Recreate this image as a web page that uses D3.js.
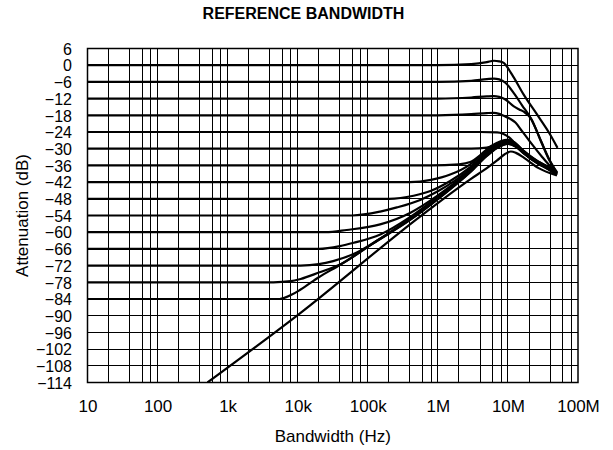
<!DOCTYPE html>
<html>
<head>
  <meta charset="utf-8">
  <script src="https://d3js.org/d3.v7.min.js"></script>
  <style>
    body { margin: 0; background: #fff; }
    text { font-family: "Liberation Sans", Arial, sans-serif; fill: #000; }
    .grid line { stroke: #000; stroke-width: 1px; shape-rendering: crispEdges; }
    .curve { fill: none; stroke: #000; stroke-width: 2.2px; stroke-linejoin: round; }
    .frame { fill: none; stroke: #000; stroke-width: 1.5px; }
  </style>
</head>
<body>
  <svg id="chart" width="613" height="450"></svg>
  <script>

    // ---- data (frequency in Hz, attenuation in dB) ----
    const xTickValues = [1e1, 1e2, 1e3, 1e4, 1e5, 1e6, 1e7, 1e8];
    const xTickLabels = ["10", "100", "1k", "10k", "100k", "1M", "10M", "100M"];
    const yTickValues = [6, 0, -6, -12, -18, -24, -30, -36, -42, -48, -54, -60, -66, -72, -78, -84, -90, -96, -102, -108, -114];

    const curve0 = [[10,0],[1e6,0],[3e6,0.4],[5e6,1.1],[6.3e6,1.6],[7.5e6,1.4],[8.7e6,0.8],[11.4e6,-3.3],[16.7e6,-10.5],[26e6,-17.7],[40e6,-24.9],[51e6,-29.7]];
    const curve6 = [[10,-6],[1e6,-6],[3e6,-5.6],[5e6,-5.0],[6.3e6,-4.8],[7.5e6,-5.1],[9.2e6,-6.3],[12.5e6,-10.5],[16e6,-14.5],[21e6,-18.9],[30e6,-27.5],[38e6,-33.3],[50e6,-38.7]];
    const curve12 = [[10,-12],[1e6,-12],[3e6,-11.6],[5e6,-11.2],[6.3e6,-11.1],[7.5e6,-11.4],[9.2e6,-12.3],[12e6,-14.7],[14.5e6,-15.9],[17e6,-16.8],[21e6,-18.9],[30e6,-27.7],[38e6,-33.6],[50e6,-38.4]];
    const curve18 = [[10,-18],[1e6,-18],[3e6,-17.6],[5e6,-17.2],[6.3e6,-17.1],[7.5e6,-17.5],[8.7e6,-18.2],[10.8e6,-19.3],[12.8e6,-20.6],[16e6,-23.8],[20e6,-27],[30e6,-32.6],[40e6,-36.2],[50e6,-38.4]];
    const curve24 = [[10,-24],[4e6,-24],[7e6,-24.1],[8.5e6,-24.6],[10.8e6,-26.3],[14.5e6,-30],[21e6,-33.6],[32e6,-36.3],[50e6,-38.6]];
    const curve30 = [[10,-30],[3e6,-30],[5e6,-29.6],[7e6,-28.3],[9.5e6,-27],[13e6,-28.4],[17e6,-30.9],[27e6,-34.6],[37e6,-36.4],[50e6,-38.8]];
    const curve36 = [[10,-36],[8e5,-36],[2e6,-35.6],[2.9e6,-34.8],[4e6,-32.4],[5e6,-30.2],[7e6,-27.9],[9.5e6,-26.8],[12e6,-27.5],[17e6,-31],[27e6,-34.7],[37e6,-36.5],[50e6,-38.8]];
    const curve42 = [[10,-42],[4e5,-42],[8e5,-41.2],[1.5e6,-39.3],[2.9e6,-35.6],[5e6,-30.6],[7e6,-28.2],[10e6,-27],[13e6,-28.5],[17e6,-31.1],[27e6,-34.8],[37e6,-36.6],[50e6,-38.9]];
    const curve48 = [[10,-48],[2e5,-48],[4.5e5,-46.9],[8e5,-45.1],[1.5e6,-41.6],[2.9e6,-36.6],[5e6,-31.2],[7e6,-28.6],[10e6,-27.2],[13e6,-28.6],[17e6,-31.2],[27e6,-34.9],[37e6,-36.7],[50e6,-39]];
    const curve54 = [[10,-54],[6e4,-54],[1.5e5,-52.6],[2.6e5,-51.1],[5.6e5,-48.4],[1e6,-45.3],[2.9e6,-37.2],[5e6,-31.6],[7e6,-28.9],[10e6,-27.4],[13e6,-28.7],[17e6,-31.3],[27e6,-35],[37e6,-36.8],[50e6,-39]];
    const curve60 = [[10,-60],[2.5e4,-60],[5e4,-59.2],[1.5e5,-57.2],[4.07e5,-53],[1e6,-46.8],[2.9e6,-37.6],[5e6,-31.9],[7e6,-29.1],[10e6,-27.6],[13e6,-28.8],[17e6,-31.4],[27e6,-35],[37e6,-36.9],[50e6,-39.1]];
    const curve66 = [[10,-66],[2e4,-66],[4e4,-65],[6.3e4,-63.8],[1.51e5,-60.8],[4e5,-54.6],[1e6,-47.2],[2.9e6,-37.9],[5e6,-32.1],[7e6,-29.3],[10e6,-27.8],[13e6,-29],[17e6,-31.5],[27e6,-35.1],[37e6,-37],[50e6,-39.2]];
    const curve72 = [[10,-72],[1.1e4,-72],[2e4,-71.5],[3.2e4,-70.4],[7.1e4,-67.2],[1.5e5,-62.3],[4e5,-55],[1e6,-47.6],[2.9e6,-38.1],[5e6,-32.3],[7e6,-29.5],[10e6,-28],[13e6,-29.1],[17e6,-31.6],[27e6,-35.2],[37e6,-37.1],[50e6,-39.3]];
    const curve78 = [[10,-78],[4.5e3,-78],[8e3,-77.6],[1.1e4,-76.8],[2e4,-74.5],[4.1e4,-71.5],[1.2e5,-63.9],[4.07e5,-55.4],[1e6,-48],[2.9e6,-38.3],[5e6,-32.5],[7e6,-29.7],[10e6,-28.2],[13e6,-29.2],[17e6,-31.7],[27e6,-35.3],[37e6,-37.2],[50e6,-39.4]];
    const curve84 = [[10,-84],[5.5e3,-84],[8e3,-82.6],[1.1e4,-80.6],[2e4,-76.2],[4.1e4,-71.6],[1.2e5,-64],[4.07e5,-55.5],[1e6,-48.1],[2.9e6,-38.4],[5e6,-32.6],[7e6,-29.8],[10e6,-28.3],[13e6,-29.3],[17e6,-31.8],[27e6,-35.4],[37e6,-37.3],[50e6,-39.4]];
    const curveSlope = [[515,-114],[1e4,-89.8],[5.63e5,-54.3],[2.9e6,-41],[5e6,-37],[7e6,-34.2],[9e6,-32],[11e6,-31],[13e6,-31.5],[17e6,-33.3],[27e6,-36.9],[50e6,-39.6]];

    const allCurves = [curve0, curve6, curve12, curve18, curve24, curve30, curve36, curve42,
                       curve48, curve54, curve60, curve66, curve72, curve78, curve84, curveSlope];

    // ---- layout ----
    const svg = d3.select("svg#chart");
    const plot = { left: 87.5, right: 578, top: 48.5, bottom: 382.5 };

    const xScale = d3.scaleLog().domain([1e1, 1e8]).range([plot.left, plot.right]);
    const yScale = d3.scaleLinear().domain([6, -114]).range([plot.top, plot.bottom]);

    // minor grid: 1,2,4,6,8 in each decade
    let xGridValues = [];
    xTickValues.slice(0, -1).forEach(d => {
      [1, 2, 4, 6, 8].forEach(m => xGridValues.push(d * m));
    });

    const grid = svg.append("g").attr("class", "grid");
    grid.selectAll("line.v").data(xGridValues.filter(d => d > 1e1))
        .join("line").attr("class", "v")
        .attr("x1", d => xScale(d)).attr("x2", d => xScale(d))
        .attr("y1", plot.top).attr("y2", plot.bottom);
    grid.selectAll("line.h").data(yTickValues.slice(1, -1))
        .join("line").attr("class", "h")
        .attr("x1", plot.left).attr("x2", plot.right)
        .attr("y1", d => yScale(d)).attr("y2", d => yScale(d));

    // clip the curves to the plot box
    svg.append("clipPath").attr("id", "plot-clip")
       .append("rect")
       .attr("x", plot.left).attr("y", plot.top)
       .attr("width", plot.right - plot.left).attr("height", plot.bottom - plot.top);

    const line = d3.line()
                   .x(d => xScale(d[0]))
                   .y(d => yScale(d[1]))
                   .curve(d3.curveMonotoneX);

    svg.append("g").attr("clip-path", "url(#plot-clip)")
       .selectAll("path.curve").data(allCurves)
       .join("path").attr("class", "curve")
       .attr("d", line);

    svg.append("rect").attr("class", "frame")
       .attr("x", plot.left).attr("y", plot.top)
       .attr("width", plot.right - plot.left).attr("height", plot.bottom - plot.top);

    // ---- axes (labels only, no tick marks) ----
    const xAxis = d3.axisBottom(xScale)
                    .tickValues(xTickValues)
                    .tickFormat((d, i) => xTickLabels[i])
                    .tickSize(0).tickPadding(0);
    const gx = svg.append("g").attr("transform", `translate(0,${plot.bottom})`).call(xAxis);
    gx.select(".domain").remove();
    gx.selectAll("text").attr("y", 29.5).attr("dy", null)
      .style("font-size", "17px").style("font-family", "'Liberation Sans', Arial, sans-serif");

    const yAxis = d3.axisLeft(yScale)
                    .tickValues(yTickValues)
                    .tickFormat(d => d < 0 ? "\u2212" + Math.abs(d) : String(d))
                    .tickSize(0).tickPadding(0);
    const gy = svg.append("g").attr("transform", `translate(72,0)`).call(yAxis);
    gy.select(".domain").remove();
    gy.selectAll("text").attr("x", 0).attr("dy", "0.36em")
      .style("font-size", "16px").style("font-family", "'Liberation Sans', Arial, sans-serif");

    // ---- titles ----
    svg.append("text")
       .attr("x", 303.5).attr("y", 18.5)
       .attr("text-anchor", "middle")
       .style("font-size", "16px").style("font-weight", "bold")
       .text("REFERENCE BANDWIDTH");

    svg.append("text")
       .attr("x", (plot.left + plot.right) / 2).attr("y", 442)
       .attr("text-anchor", "middle")
       .style("font-size", "17px")
       .text("Bandwidth (Hz)");

    svg.append("text")
       .attr("transform", `translate(28,${(plot.top + plot.bottom) / 2}) rotate(-90)`)
       .attr("text-anchor", "middle")
       .style("font-size", "17px")
       .text("Attenuation (dB)");

  </script>
</body>
</html>
